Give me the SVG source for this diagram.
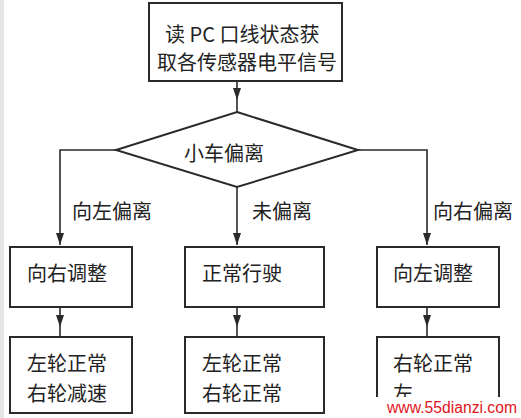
<svg xmlns="http://www.w3.org/2000/svg" width="521" height="418" viewBox="0 0 521 418">
<defs>
<style>
.box{fill:#fff;stroke:#2a2a2a;stroke-width:2}
.ln{fill:none;stroke:#2a2a2a;stroke-width:1.6}
.t{font-family:"Noto Sans CJK SC","Noto Sans",sans-serif;font-size:20px;fill:#222;dominant-baseline:central}
.wm{font-family:"Liberation Sans",Arial,sans-serif;font-size:16px;fill:#e0151a}
</style>
<marker id="ah" viewBox="0 0 12 8" refX="12" refY="4" markerWidth="12" markerHeight="8" markerUnits="userSpaceOnUse" orient="auto">
<path d="M0,0 L12,4 L0,8 Z" fill="#2a2a2a"/>
</marker>
</defs>
<rect width="521" height="418" fill="#fff"/>
<rect x="0" y="0" width="4" height="418" fill="#e6e6e6"/>

<g id="connectors">
<path class="ln" d="M237,81 L237,100 L237,112" marker-mid="url(#ah)"/>
<path class="ln" d="M116,150 L60,150 L60,245" marker-end="url(#ah)"/>
<path class="ln" d="M237,187 L237,245" marker-end="url(#ah)"/>
<path class="ln" d="M358,150 L427,150 L427,245" marker-end="url(#ah)"/>
<path class="ln" d="M60,307 L60,327 L60,337" marker-mid="url(#ah)"/>
<path class="ln" d="M237,307 L237,327 L237,337" marker-mid="url(#ah)"/>
<path class="ln" d="M427,307 L427,327 L427,337" marker-mid="url(#ah)"/>
<text class="t" x="72" y="210">向左偏离</text>
<text class="t" x="252" y="210">未偏离</text>
<text class="t" x="433" y="210">向右偏离</text>
</g>

<g id="start">
<rect class="box" x="149" y="3" width="193" height="78"/>
<text class="t" x="165" y="33">读 PC 口线状态获</text>
<text class="t" x="157" y="61">取各传感器电平信号</text>
</g>

<g id="decision">
<polygon class="box" points="237,112 358,150 237,187 116,150"/>
<text class="t" x="184" y="152">小车偏离</text>
</g>

<g id="adjust-right">
<rect class="box" x="10" y="247" width="122" height="60"/>
<text class="t" x="27" y="272">向右调整</text>
</g>
<g id="normal-drive">
<rect class="box" x="185" y="247" width="139" height="60"/>
<text class="t" x="202" y="272">正常行驶</text>
</g>
<g id="adjust-left">
<rect class="box" x="377" y="247" width="122" height="60"/>
<text class="t" x="393" y="272">向左调整</text>
</g>

<g id="left-slow">
<rect class="box" x="10" y="337" width="122" height="76"/>
<text class="t" x="27" y="362">左轮正常</text>
<text class="t" x="27" y="392">右轮减速</text>
</g>
<g id="both-normal">
<rect class="box" x="185" y="337" width="139" height="76"/>
<text class="t" x="202" y="362">左轮正常</text>
<text class="t" x="202" y="392">右轮正常</text>
</g>
<g id="right-slow">
<rect class="box" x="377" y="337" width="122" height="76"/>
<text class="t" x="393" y="362">右轮正常</text>
<text class="t" x="393" y="392">左</text>
<rect x="412" y="381" width="84" height="16" fill="#fff"/>
</g>

<g id="watermark">
<rect x="376" y="397" width="145" height="21" fill="#fff"/>
<text class="wm" x="387" y="413" textLength="130" lengthAdjust="spacingAndGlyphs">www.55dianzi.com</text>
</g>
</svg>
